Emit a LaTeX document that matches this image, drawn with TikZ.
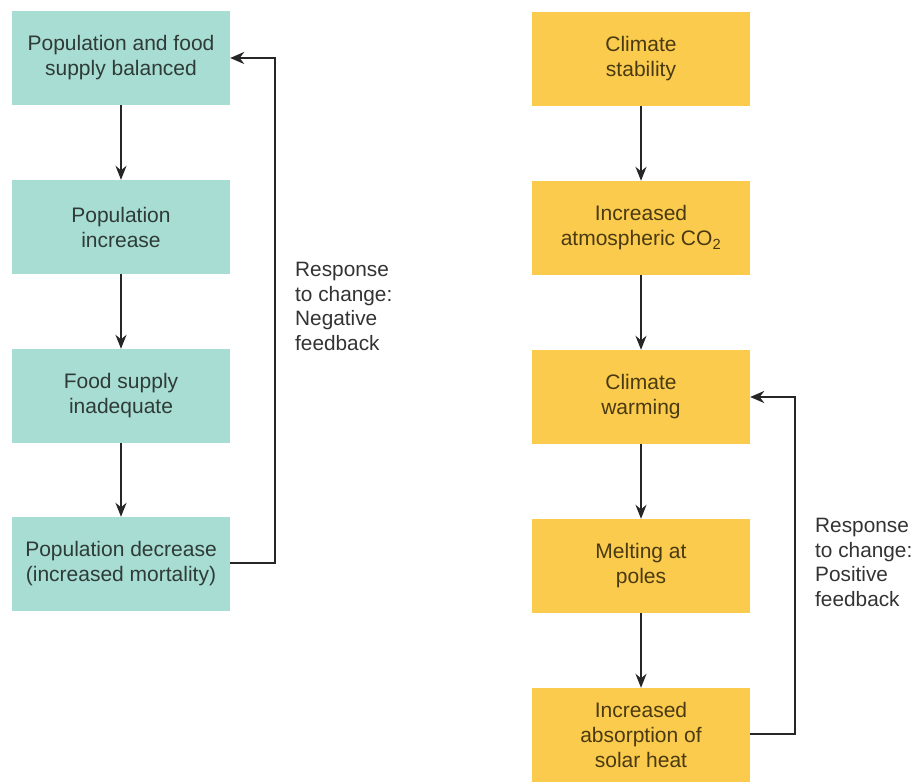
\documentclass[tikz,border=0pt]{standalone}
\usepackage{fontspec}
\setmainfont{Liberation Sans}
\usetikzlibrary{arrows.meta}
\definecolor{teal}{HTML}{A8DDD3}
\definecolor{gold}{HTML}{FBCB4E}
\definecolor{tealtxt}{HTML}{2E3B37}
\definecolor{goldtxt}{HTML}{4A3A12}
\definecolor{lbl}{HTML}{333333}
\tikzset{
  box/.style={minimum width=218pt, minimum height=94pt, inner sep=0pt, align=center,
    font=\fontsize{21}{25}\selectfont},
  tbox/.style={box, fill=teal, text=tealtxt},
  gbox/.style={box, fill=gold, text=goldtxt},
  conn/.style={draw=black!85, line width=2.2pt, -{Stealth[length=14pt,width=11pt]}},
  fb/.style={draw=black!85, line width=2.2pt, -{Stealth[length=14pt,width=12pt]}},
  lab/.style={align=left, anchor=north west, inner sep=0pt, text=lbl,
    font=\fontsize{20.8}{24.5}\selectfont}
}
\begin{document}
\begin{tikzpicture}[x=1pt,y=-1pt]
\useasboundingbox (0,0) rectangle (916,783);
% left column
\node[tbox] (l1) at (121,58) {Population and food\\supply balanced};
\node[tbox] (l2) at (121,227) {Population\\increase};
\node[tbox] (l3) at (121,396) {Food supply\\inadequate};
\node[tbox] (l4) at (121,564) {Population decrease\\(increased mortality)};
\draw[conn] (l1) -- (l2);
\draw[conn] (l2) -- (l3);
\draw[conn] (l3) -- (l4);
\coordinate (lc1) at (275,563);
\coordinate (lc2) at (275,58);
\draw[fb] (l4.east |- lc1) -- (lc1) -- (lc2) -- (l1.east |- lc2);
\node[lab] (nl) at (295,262) {Response\\to change:\\Negative\\feedback};
% right column
\node[gbox] (r1) at (641,59) {Climate\\stability};
\node[gbox] (r2) at (641,228) {Increased\\atmospheric CO\textsubscript{2}};
\node[gbox] (r3) at (641,397) {Climate\\warming};
\node[gbox] (r4) at (641,566) {Melting at\\poles};
\node[gbox] (r5) at (641,735) {Increased\\absorption of\\solar heat};
\draw[conn] (r1) -- (r2);
\draw[conn] (r2) -- (r3);
\draw[conn] (r3) -- (r4);
\draw[conn] (r4) -- (r5);
\coordinate (rc1) at (795,734);
\coordinate (rc2) at (795,397);
\draw[fb] (r5.east |- rc1) -- (rc1) -- (rc2) -- (r3.east |- rc2);
\node[lab] (nr) at (815,518) {Response\\to change:\\Positive\\feedback};
\end{tikzpicture}
\end{document}
